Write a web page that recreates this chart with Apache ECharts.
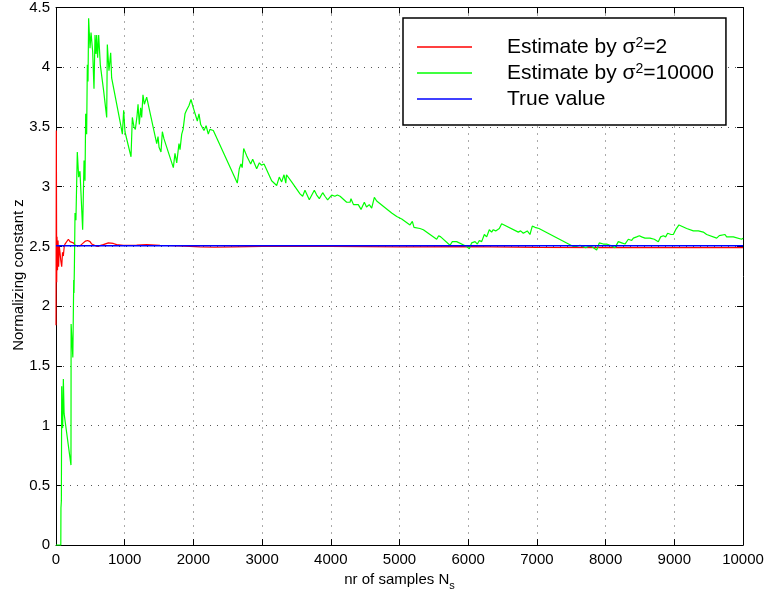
<!DOCTYPE html>
<html>
<head>
<meta charset="utf-8">
<script src="https://cdn.jsdelivr.net/npm/echarts@6/dist/echarts.min.js"></script>
<style>
  html, body { margin: 0; padding: 0; background: #fff; }
  #chart { width: 768px; height: 596px; }
</style>
</head>
<body>
<div id="chart"></div>
<script>
// Sample counts on the x axis and axis ticks
const xTicks = [0, 1000, 2000, 3000, 4000, 5000, 6000, 7000, 8000, 9000, 10000];
const yTicks = [0, 0.5, 1, 1.5, 2, 2.5, 3, 3.5, 4, 4.5];

// Running estimate of z with proposal variance sigma^2 = 2 : [N_s, z]
const estimateSigma2 = [
  [0, 1.84], [5, 3.47], [10, 2.2], [15, 2.58], [22, 2.3], [30, 2.55], [38, 2.33],
  [48, 2.5], [58, 2.45], [70, 2.38], [83, 2.33], [95, 2.45], [107, 2.42], [120, 2.5],
  [131, 2.52], [155, 2.53], [180, 2.56], [204, 2.54], [230, 2.55], [252, 2.53],
  [280, 2.51], [301, 2.5], [349, 2.505], [398, 2.53], [430, 2.545], [460, 2.55],
  [495, 2.54], [520, 2.52], [543, 2.51], [600, 2.5], [689, 2.515], [762, 2.53],
  [834, 2.525], [883, 2.515], [980, 2.51], [1174, 2.512], [1320, 2.516], [1514, 2.51],
  [1800, 2.504], [2096, 2.497], [2300, 2.493], [2600, 2.497], [3000, 2.5], [3500, 2.503],
  [4000, 2.5], [5000, 2.497], [6000, 2.498], [7000, 2.492], [8000, 2.49],
  [9000, 2.49], [10000, 2.49]
];

// Running estimate of z with proposal variance sigma^2 = 10000 : [N_s, z]
const estimateSigma10000 = [
  [0, 0], [40, 0], [70, 0], [72, 0.31], [78, 0.37], [83, 1.33], [90, 1.0], [97, 0.98],
  [107, 1.39], [118, 1.1], [218, 0.67], [220, 1.85], [245, 1.57], [258, 2.22],
  [262, 2.11], [268, 2.34], [277, 2.78], [290, 2.72], [310, 3.29], [330, 3.08],
  [349, 3.13], [388, 2.64], [408, 3.22], [422, 3.05], [432, 3.61], [446, 3.44],
  [456, 4.02], [466, 3.88], [475, 4.41], [495, 4.16], [510, 4.29], [534, 4.13],
  [553, 3.82], [568, 4.27], [582, 4.11], [592, 4.27], [606, 4.08], [621, 4.27],
  [645, 4.02], [694, 3.8], [738, 3.58], [747, 4.19], [771, 3.97], [796, 4.12],
  [810, 3.91], [941, 3.52], [966, 3.44], [985, 3.64], [1004, 3.46], [1092, 3.25],
  [1111, 3.58], [1135, 3.5], [1155, 3.48], [1179, 3.59], [1194, 3.69], [1213, 3.52],
  [1232, 3.66], [1247, 3.58], [1266, 3.77], [1286, 3.69], [1320, 3.75], [1466, 3.36],
  [1485, 3.42], [1500, 3.33], [1528, 3.29], [1548, 3.46], [1572, 3.4], [1590, 3.39],
  [1708, 3.16], [1732, 3.28], [1757, 3.2], [1790, 3.36], [1805, 3.31], [1830, 3.44],
  [1850, 3.48], [1878, 3.61], [1900, 3.64], [1936, 3.68], [1965, 3.73], [1999, 3.66],
  [2057, 3.55], [2081, 3.61], [2106, 3.52], [2154, 3.47], [2185, 3.51], [2217, 3.44],
  [2240, 3.48], [2290, 3.47], [2639, 3.03], [2668, 3.15], [2692, 3.19], [2710, 3.16],
  [2732, 3.32], [2775, 3.26], [2834, 3.19], [2863, 3.23], [2921, 3.15], [2960, 3.2],
  [2990, 3.18], [3028, 3.19], [3139, 3.05], [3212, 3.01], [3250, 3.08], [3285, 3.04],
  [3319, 3.1], [3345, 3.03], [3355, 3.1], [3430, 3.04], [3552, 2.94], [3590, 2.92],
  [3624, 2.97], [3687, 2.89], [3760, 2.97], [3795, 2.93], [3833, 2.9], [3882, 2.95],
  [3915, 2.92], [3954, 2.89], [4013, 2.93], [4060, 2.92], [4095, 2.93], [4135, 2.92],
  [4231, 2.87], [4280, 2.87], [4294, 2.9], [4330, 2.85], [4400, 2.85], [4440, 2.81],
  [4488, 2.87], [4520, 2.83], [4560, 2.85], [4595, 2.82], [4634, 2.91], [4668, 2.88],
  [4886, 2.78], [4960, 2.75], [5032, 2.73], [5153, 2.68], [5187, 2.71], [5211, 2.66],
  [5298, 2.65], [5347, 2.64], [5541, 2.56], [5570, 2.59], [5600, 2.58], [5735, 2.51],
  [5769, 2.54], [5832, 2.54], [5856, 2.53], [5978, 2.5], [6016, 2.48], [6050, 2.53],
  [6100, 2.54], [6133, 2.52], [6162, 2.55], [6196, 2.54], [6235, 2.6], [6269, 2.58],
  [6307, 2.64], [6341, 2.62], [6365, 2.64], [6400, 2.63], [6453, 2.65], [6487, 2.69],
  [6729, 2.62], [6763, 2.63], [6802, 2.61], [6860, 2.63], [6899, 2.6], [6933, 2.67],
  [6972, 2.66], [7030, 2.65], [7530, 2.5], [7578, 2.5], [7627, 2.51], [7651, 2.5],
  [7710, 2.49], [7748, 2.5], [7797, 2.5], [7870, 2.47], [7908, 2.53], [7966, 2.52],
  [8015, 2.52], [8064, 2.51], [8137, 2.49], [8185, 2.54], [8234, 2.53], [8282, 2.52],
  [8331, 2.56], [8380, 2.55], [8404, 2.57], [8452, 2.58], [8491, 2.59], [8525, 2.58],
  [8573, 2.57], [8646, 2.57], [8709, 2.56], [8767, 2.54], [8801, 2.58], [8840, 2.59],
  [8874, 2.58], [8903, 2.61], [8952, 2.6], [8986, 2.6], [9020, 2.64], [9068, 2.68],
  [9180, 2.65], [9277, 2.63], [9350, 2.63], [9422, 2.62], [9471, 2.6], [9617, 2.57],
  [9655, 2.59], [9738, 2.6], [9762, 2.58], [9859, 2.58], [9981, 2.56], [10000, 2.57]
];

// Exact normalizing constant sqrt(2*pi)
const trueValue = [[0, 2.5066], [10000, 2.5066]];

const seriesNames = ['Estimate by σ2=2', 'Estimate by σ2=10000', 'True value'];
const seriesColors = ['#ff0000', '#00ff00', '#0000ff'];
const legendLabels = {
  'Estimate by σ2=2': 'Estimate by σ{sup|2}=2',
  'Estimate by σ2=10000': 'Estimate by σ{sup|2}=10000',
  'True value': 'True value'
};

const FONT = '"Liberation Sans", Arial, Helvetica, sans-serif';
const gridLine = { show: true, lineStyle: { color: '#555', width: 1, type: [1, 6] } };
const tickStyle = { show: true, inside: true, length: 6, lineStyle: { color: '#000' } };
const boxLine = { show: true, onZero: false, lineStyle: { color: '#000', width: 1 } };

const chart = echarts.init(document.getElementById('chart'), null, { renderer: 'canvas' });

const option = {
  animation: false,
  backgroundColor: '#fff',
  grid: { left: 56, right: 25, top: 6, bottom: 48, containLabel: false },
  legend: {
    data: seriesNames.map((n, i) => ({ name: n, itemStyle: { color: seriesColors[i], borderWidth: 0 } })),
    orient: 'vertical',
    left: 403,
    top: 18,
    padding: [18, 12, 15, 14],
    itemGap: 2,
    itemWidth: 55,
    itemHeight: 1.5,
    backgroundColor: '#fff',
    borderColor: '#000',
    borderWidth: 1.5,
    borderRadius: 0,
    icon: 'rect',
    formatter: name => legendLabels[name],
    textStyle: {
      fontFamily: FONT,
      fontSize: 21,
      lineHeight: 22,
      color: '#000',
      padding: [0, 0, 0, 30],
      rich: {
        sup: { fontSize: 14, lineHeight: 22, verticalAlign: 'top', padding: [0, 0, 10, 0], fontFamily: FONT, color: '#000' }
      }
    }
  },
  xAxis: [
    {
      type: 'value', min: 0, max: 10000, interval: 1000,
      name: 'nr of samples N{sub|s}',
      nameLocation: 'middle', nameGap: 22,
      nameTextStyle: {
        fontFamily: FONT, fontSize: 15, color: '#000',
        rich: { sub: { fontSize: 11, padding: [12, 0, 0, 0], fontFamily: FONT, color: '#000' } }
      },
      axisLine: boxLine,
      axisTick: tickStyle,
      axisLabel: { fontFamily: FONT, fontSize: 15, color: '#000', margin: 7, formatter: v => String(v) },
      splitLine: gridLine
    },
    {
      type: 'value', min: 0, max: 10000, interval: 1000, position: 'top',
      axisLine: boxLine, axisTick: tickStyle,
      axisLabel: { show: false }, splitLine: { show: false }
    }
  ],
  yAxis: [
    {
      type: 'value', min: 0, max: 4.5, interval: 0.5,
      axisLine: boxLine, axisTick: tickStyle,
      axisLabel: { fontFamily: FONT, fontSize: 15, color: '#000', margin: 6 },
      splitLine: gridLine
    },
    {
      type: 'value', min: 0, max: 4.5, interval: 0.5, position: 'right',
      axisLine: boxLine, axisTick: tickStyle,
      axisLabel: { show: false }, splitLine: { show: false }
    }
  ],
  graphic: [
    {
      type: 'text',
      x: 11, y: 275,
      rotation: Math.PI / 2,
      style: {
        text: 'Normalizing constant z',
        fontFamily: FONT, fontSize: 15, fill: '#000',
        align: 'center', verticalAlign: 'top'
      }
    }
  ],
  series: [
    {
      name: seriesNames[0], type: 'line', data: estimateSigma2,
      showSymbol: false, symbol: 'none', color: seriesColors[0],
      lineStyle: { width: 1.2, color: seriesColors[0] }, z: 2
    },
    {
      name: seriesNames[1], type: 'line', data: estimateSigma10000,
      showSymbol: false, symbol: 'none', color: seriesColors[1],
      lineStyle: { width: 1.2, color: seriesColors[1] }, z: 2
    },
    {
      name: seriesNames[2], type: 'line', data: trueValue,
      showSymbol: false, symbol: 'none', color: seriesColors[2],
      lineStyle: { width: 1.5, color: seriesColors[2] }, z: 3
    }
  ]
};

chart.setOption(option);
</script>
</body>
</html>
